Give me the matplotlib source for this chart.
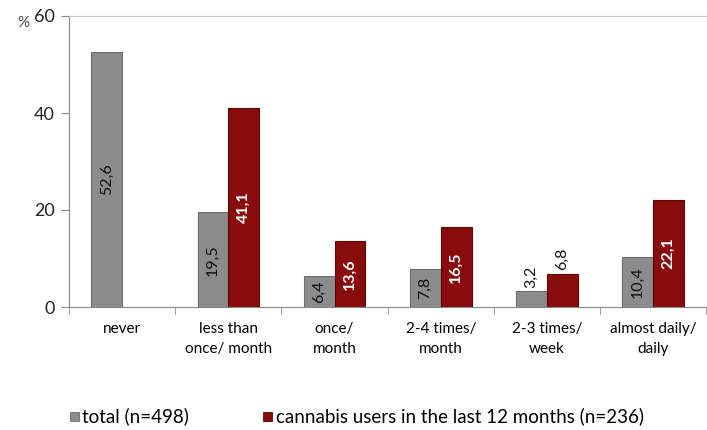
import numpy as np
from matplotlib import pyplot as plt
from matplotlib.patches import Rectangle

categories = ['never', 'less than\nonce/ month', 'once/\nmonth', '2-4 times/\nmonth',
              '2-3 times/\nweek', 'almost daily/\ndaily']
total = [52.6, 19.5, 6.4, 7.8, 3.2, 10.4]
users = [None, 41.1, 13.6, 16.5, 6.8, 22.1]
total_label = 'total (n=498)'
users_label = 'cannabis users in the last 12 months (n=236)'

grey = '#8c8c8c'
red = '#880c0c'

plt.rcParams['font.family'] = ['Lato', 'DejaVu Sans']

fig = plt.figure(figsize=(7.07, 4.30), dpi=100)
ax = fig.add_axes([69/707, 1-307/430, 1-69/707-0.001, 291/430])

x = np.arange(len(categories))
w = 0.29
for i in x:
    t = total[i]
    ax.bar(i - w/2, t, w, color=grey, edgecolor='#6e6e6e', linewidth=0.8, zorder=2)
    lab = f'{t:.1f}'.replace('.', ',')
    if t > 5:
        ax.text(i - w/2, t/2, lab, rotation=90, ha='center', va='center', fontsize=11.5, color='#111111', zorder=3)
    else:
        ax.text(i - w/2, t + 0.8, lab, rotation=90, ha='center', va='bottom', fontsize=11.5, color='#111111', zorder=3)
    u = users[i]
    if u is None:
        continue
    ax.bar(i + w/2, u, w, color=red, edgecolor='#5a0808', linewidth=0.8, zorder=2)
    lab = f'{u:.1f}'.replace('.', ',')
    if u > 10:
        ax.text(i + w/2, u/2, lab, rotation=90, ha='center', va='center', fontsize=11.5,
                color='white', fontweight='bold', zorder=3)
    else:
        ax.text(i + w/2, u + 0.8, lab, rotation=90, ha='center', va='bottom', fontsize=11.5, color='#111111', zorder=3)

ax.set_xlim(-0.5, len(categories) - 0.5)
ax.set_ylim(0, 60)
ax.set_yticks([0, 20, 40, 60])
ax.tick_params(axis='y', labelsize=13, length=6, color='#888888', pad=4, labelcolor='#222222')
ax.set_xticks(x)
ax.set_xticklabels(categories, fontsize=11, linespacing=1.5)
ax.tick_params(axis='x', which='major', length=0, pad=11)
ax.set_xticks(np.arange(len(categories) + 1) - 0.5, minor=True)
ax.tick_params(axis='x', which='minor', length=5, color='#888888')
for s in ['left', 'bottom']:
    ax.spines[s].set_color('#888888')
ax.spines['top'].set_color('#c8c8c8')
ax.spines['right'].set_visible(False)
fig.text(29/707, 1-30/430, '%', fontsize=11, ha='right', va='bottom', color='#444444')

# legend
fig.patches.append(Rectangle((70/707, 1-421/430), 9/707, 9/430, transform=fig.transFigure,
                             facecolor=grey, edgecolor='#6e6e6e', linewidth=0.6))
fig.text(82/707, 1-416/430, total_label, fontsize=13.5, va='center')
fig.patches.append(Rectangle((263/707, 1-421/430), 9/707, 9/430, transform=fig.transFigure,
                             facecolor=red, edgecolor='#5a0808', linewidth=0.6))
fig.text(276/707, 1-416/430, users_label, fontsize=13.5, va='center')

fig.savefig('out.png', dpi=100)
